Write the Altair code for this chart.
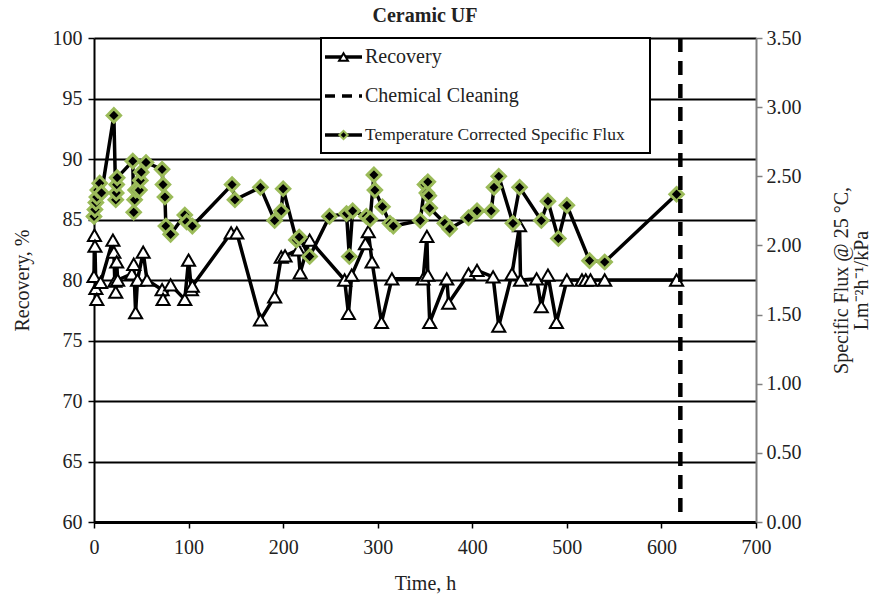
import altair as alt
import pandas as pd

# ---------------- data ----------------
rec_t = [0, 0.5, 1, 2, 3, 7, 20, 21, 22, 23, 24, 25, 40, 42, 44, 46, 52, 56, 72, 73, 81, 96, 100, 103, 104,
         145, 151, 176, 191, 198, 202, 216, 218, 228, 265, 269, 272.5, 287, 290, 294, 304, 315, 348, 352,
         353, 355, 373, 375, 396, 405, 422, 428, 442, 450, 451, 468, 473, 480, 489, 500, 516, 520, 525,
         540, 616]
rec_v = [80.3, 83.7, 82.8, 79.3, 78.4, 79.8, 83.3, 82.3, 79.9, 79.0, 81.5, 80.0, 80.5, 81.3, 77.3, 80.0,
         82.3, 80.0, 79.2, 78.4, 79.6, 78.4, 81.65, 79.2, 79.5, 83.9, 83.9, 76.7, 78.6, 81.9, 82.0, 82.5,
         80.6, 83.3, 80.0, 77.25, 80.4, 83.0, 84.0, 81.5, 76.5, 80.1, 80.1, 83.6, 80.4, 76.5, 80.1, 78.1,
         80.5, 80.8, 80.25, 76.2, 80.5, 84.5, 80.0, 80.1, 77.8, 80.4, 76.5, 80.0, 80.0, 80.0, 80.0, 80.0,
         80.0]

flux_t = [0, 1, 2, 3, 4, 6, 8, 21, 23, 23.5, 24, 24.5, 41, 42, 43, 44, 48, 49, 50, 55, 72, 73, 75, 76,
          81, 96, 98, 104, 146, 149, 176, 191, 198, 200, 214, 217, 228, 249, 267, 270, 273.5, 288, 292,
          296, 297, 305, 313, 316.5, 345, 350, 352, 353, 354, 355, 371, 376, 396, 405, 420, 423, 428,
          443, 450, 473, 480, 491, 500, 524, 540, 616]
flux_v = [2.21, 2.26, 2.31, 2.35, 2.40, 2.45, 2.38, 2.94, 2.33, 2.38, 2.44, 2.49, 2.61, 2.24, 2.33, 2.40,
          2.40, 2.47, 2.53, 2.60, 2.55, 2.44, 2.35, 2.14, 2.08, 2.22, 2.17, 2.14, 2.44, 2.33, 2.42, 2.18,
          2.25, 2.41, 2.04, 2.06, 1.92, 2.21, 2.23, 1.92, 2.25, 2.21, 2.19, 2.51, 2.40, 2.28, 2.16, 2.14,
          2.18, 2.44, 2.38, 2.46, 2.36, 2.27, 2.16, 2.12, 2.20, 2.25, 2.25, 2.42, 2.50, 2.16, 2.42, 2.18,
          2.32, 2.05, 2.29, 1.89, 1.88, 2.37]

cleaning_t = [620]

x_ticks = [0, 100, 200, 300, 400, 500, 600, 700]
rec_ticks = [60, 65, 70, 75, 80, 85, 90, 95, 100]
flux_ticks = [0, 0.5, 1.0, 1.5, 2.0, 2.5, 3.0, 3.5]

legend_labels = ["Recovery", "Chemical Cleaning", "Temperature Corrected Specific Flux"]

FONT = "Liberation Serif"
GREEN = "#9BBB59"
TXT = "#222222"
W, H = 662, 484

rec_df = pd.DataFrame({"t": rec_t, "rec": rec_v, "o": list(range(len(rec_t)))})
flux_df = pd.DataFrame({"t": flux_t, "flux": flux_v, "o": list(range(len(flux_t)))})
clean_df = pd.DataFrame({"t": cleaning_t})
one = pd.DataFrame({"a": [0]})

AX = dict(labelFont=FONT, titleFont=FONT, labelFontSize=20, titleFontSize=20,
          labelColor=TXT, titleColor=TXT, titleFontWeight="normal", labelFlush=False)

x_enc = alt.X("t:Q", scale=alt.Scale(domain=[0, 700], nice=False),
              axis=alt.Axis(values=x_ticks, title="Time, h", grid=False, domainColor="black",
                            domainWidth=3, tickColor="black", tickWidth=1.5, tickSize=6,
                            labelPadding=9, titlePadding=16, format="d", **AX))

left_axis = alt.Axis(values=rec_ticks, title="Recovery, %", grid=True, gridColor="black",
                     gridWidth=2, domainColor="black", domainWidth=2, tickColor="black",
                     tickWidth=1.5, tickSize=6, labelPadding=6, titlePadding=20, **AX)
right_axis = alt.Axis(values=flux_ticks, orient="right", format=".2f",
                      title=["Specific Flux @ 25 °C,", "Lm\u207b\u00b2h\u207b\u00b9/kPa"],
                      grid=False, domainColor="#808080", domainWidth=2, tickColor="#808080",
                      tickWidth=1.5, tickSize=6, labelPadding=4, titlePadding=30,
                      titleAngle=270, titleLineHeight=20, **AX)

rec_base = alt.Chart(rec_df).encode(
    x=x_enc,
    y=alt.Y("rec:Q", scale=alt.Scale(domain=[60, 100], nice=False), axis=left_axis),
    order="o:Q")
rec_line = rec_base.mark_line(color="black", strokeWidth=3.5)
rec_pts = rec_base.mark_point(shape="triangle-up", filled=True, fill="white", stroke="black",
                              strokeWidth=2, size=170, opacity=1)

flux_base = alt.Chart(flux_df).encode(
    x=alt.X("t:Q"),
    y=alt.Y("flux:Q", scale=alt.Scale(domain=[0, 3.5], nice=False), axis=right_axis),
    order="o:Q")
flux_line = flux_base.mark_line(color="black", strokeWidth=3.5)
flux_pts = flux_base.mark_point(shape="diamond", filled=True, fill="black", stroke=GREEN,
                                strokeWidth=3, size=180, opacity=1)

clean = alt.Chart(clean_df).mark_rule(color="black", strokeWidth=4.5, strokeDash=[14, 9]).encode(
    x=alt.X("t:Q"), y=alt.value(0), y2=alt.value(476))

# ---------------- legend ----------------
LX0, LX1, LY0, LY1 = 227, 556, 0, 115
ys = [19, 58, 97]
box = alt.Chart(one).mark_rect(fill="white", stroke="black", strokeWidth=2).encode(
    x=alt.value(LX0), x2=alt.value(LX1), y=alt.value(LY0), y2=alt.value(LY1))
leg_l1 = alt.Chart(one).mark_rule(color="black", strokeWidth=3.5).encode(
    x=alt.value(231), x2=alt.value(268), y=alt.value(ys[0]))
leg_p1 = alt.Chart(one).mark_point(shape="triangle-up", filled=True, fill="white", stroke="black",
                                   strokeWidth=2, size=80, opacity=1).encode(
    x=alt.value(249.5), y=alt.value(ys[0]))
leg_l2 = alt.Chart(one).mark_rule(color="black", strokeWidth=3.5, strokeDash=[10, 7]).encode(
    x=alt.value(231), x2=alt.value(268), y=alt.value(ys[1]))
leg_l3 = alt.Chart(one).mark_rule(color="black", strokeWidth=3.5).encode(
    x=alt.value(231), x2=alt.value(268), y=alt.value(ys[2]))
leg_p3 = alt.Chart(one).mark_point(shape="diamond", filled=True, fill="black", stroke=GREEN,
                                   strokeWidth=2, size=70, opacity=1).encode(
    x=alt.value(249.5), y=alt.value(ys[2]))
leg_t1 = alt.Chart(one).mark_text(font=FONT, fontSize=20, align="left", baseline="middle",
                                  color=TXT).encode(
    x=alt.value(271), y=alt.value(ys[0]), text=alt.value(legend_labels[0]))
leg_t2 = alt.Chart(one).mark_text(font=FONT, fontSize=20, align="left", baseline="middle",
                                  color=TXT).encode(
    x=alt.value(271), y=alt.value(ys[1]), text=alt.value(legend_labels[1]))
leg_t3 = alt.Chart(one).mark_text(font=FONT, fontSize=17.5, align="left", baseline="middle",
                                  color=TXT).encode(
    x=alt.value(271), y=alt.value(ys[2]), text=alt.value(legend_labels[2]))

main = alt.layer(
    alt.layer(rec_line, rec_pts),
    alt.layer(flux_line, flux_pts),
).resolve_scale(y="independent")

chart = alt.layer(
    main, clean, box, leg_l1, leg_p1, leg_l2, leg_l3, leg_p3, leg_t1, leg_t2, leg_t3
).resolve_scale(y="independent").properties(
    width=W, height=H,
    title=alt.Title("Ceramic UF", font=FONT, fontSize=20, fontWeight="bold", anchor="middle",
                    offset=2, color=TXT),
    padding={"left": 94, "top": 38, "right": 119, "bottom": 82},
    autosize=alt.AutoSizeParams(type="none"),
    background="white",
).configure_view(stroke=None)

chart.save("out.html", embed_options={"renderer": "svg", "actions": False})
